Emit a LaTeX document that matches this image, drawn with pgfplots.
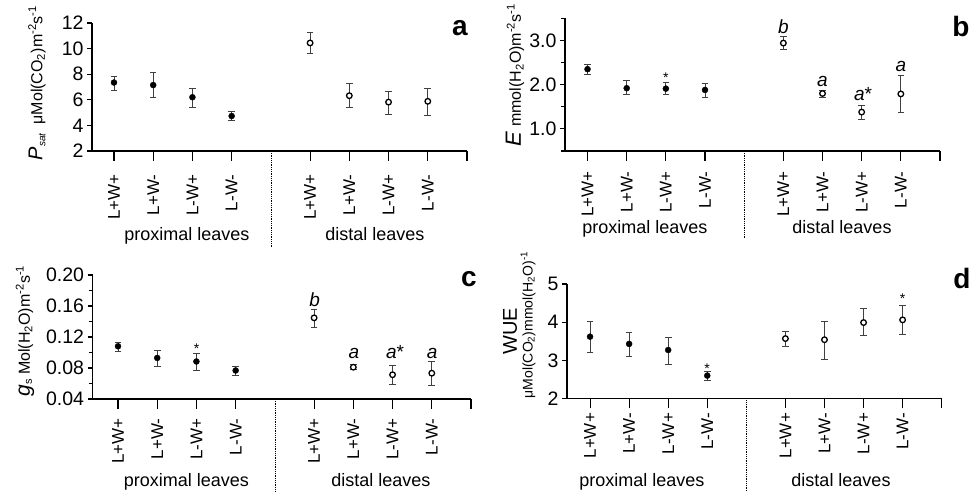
\documentclass[border=0pt]{standalone}
\usepackage{pgfplots}
\pgfplotsset{compat=1.18}
\usepackage{fontspec}
\setmainfont{Liberation Sans}
\newcommand{\fs}[1]{\fontsize{#1}{#1}\selectfont}
\pgfplotsset{
  panel/.style={
    scale only axis,
    axis lines=left,
    axis line style={-, line width=1.8pt},
    tick align=outside,
    major tick length=5pt,
    minor tick length=4pt,
    every tick/.style={black, line width=1.1pt},
    xtick=\empty,
    extra x ticks={0,1,2,3,5,6,7,8,9},
    extra x tick labels={L+W+,L+W-,L-W+,L-W-,L+W+,L+W-,L-W+,L-W-,},
    extra x tick style={major tick length=10pt,
      xticklabel style={rotate=90, anchor=east, font=\fs{17}},
      tick style={black, line width=1.1pt}},
    yticklabel style={font=\fs{19.5}},
    /pgf/number format/assume math mode=true,
    xmax=9,
    clip=false,
  },
  perr/.style={error bars/.cd, y dir=both, y explicit,
    error bar style={line width=0.9pt, draw=black!75, solid},
    error mark=-,
    error mark options={rotate=90, mark size=3.3pt, line width=0.9pt, draw=black!75, solid}},
  pfill/.style={only marks, mark=*, mark size=3pt, mark options={fill=black, draw=black}, perr},
  popen/.style={only marks, mark=*, mark size=2.8pt, mark options={fill=white, draw=black, line width=1.3pt}, perr},
}
\begin{document}
\begin{tikzpicture}
\useasboundingbox (0,0) rectangle (971pt,492pt);
% ---------------- panel a
\begin{axis}[panel, at={(92pt,341pt)}, anchor=south west, width=375pt, height=128pt,
  xmin=-0.56, ymin=2, ymax=12, ytick={2,4,...,12},
  extra x tick style={xticklabel shift=10pt}]
\addplot[pfill] table[x=x,y=y,y error plus=ep,y error minus=em] {
x y ep em
0 7.35 0.50 0.60
1 7.15 1.00 1.00
2 6.20 0.72 0.80
3 4.73 0.39 0.37
};
\addplot[popen] table[x=x,y=y,y error plus=ep,y error minus=em] {
x y ep em
5 10.44 0.81 0.83
6 6.32 0.93 0.92
7 5.82 0.84 0.96
8 5.88 1.00 1.08
};
\end{axis}
% ---------------- panel b
\begin{axis}[panel, at={(565pt,341pt)}, anchor=south west, width=375pt, height=132.7pt,
  xmin=-0.575, ymin=0.5, ymax=3.5, ytick={1,2,3}, minor ytick={0.5,1.5,2.5,3.5},
  yticklabel style={/pgf/number format/.cd, fixed, fixed zerofill, precision=1},
  extra x tick style={xticklabel shift=7pt}]
\addplot[pfill] table[x=x,y=y,y error plus=ep,y error minus=em] {
x y ep em
0 2.35 0.11 0.13
1 1.92 0.17 0.15
2 1.91 0.15 0.14
3 1.88 0.15 0.16
};
\addplot[popen] table[x=x,y=y,y error plus=ep,y error minus=em] {
x y ep em
5 2.94 0.14 0.15
6 1.80 0.08 0.09
7 1.38 0.16 0.16
8 1.79 0.41 0.41
};
\end{axis}
% ---------------- panel c
\begin{axis}[panel, at={(92.5pt,93pt)}, anchor=south west, width=378.5pt, height=124pt,
  xmin=-0.65, ymin=0.04, ymax=0.20, ytick={0.04,0.08,...,0.20}, minor ytick={0.06,0.10,0.14,0.18},
  yticklabel style={/pgf/number format/.cd, fixed, fixed zerofill, precision=2},
  extra x tick style={xticklabel shift=6pt}]
\addplot[pfill] table[x=x,y=y,y error plus=ep,y error minus=em] {
x y ep em
0 0.108 0.0046 0.0062
1 0.093 0.0097 0.0110
2 0.0884 0.0100 0.0116
3 0.0768 0.0052 0.0065
};
\addplot[popen] table[x=x,y=y,y error plus=ep,y error minus=em] {
x y ep em
5 0.1447 0.0106 0.0118
6 0.081 0.0040 0.0030
7 0.0713 0.0117 0.0119
8 0.0733 0.0148 0.0160
};
\end{axis}
% ---------------- panel d
\begin{axis}[panel, at={(567pt,93.5pt)}, anchor=south west, width=374.7pt, height=114.5pt,
  xmin=-0.59, ymin=2, ymax=5, ytick={2,3,4,5},
  extra x tick style={xticklabel shift=1pt}]
\addplot[pfill] table[x=x,y=y,y error plus=ep,y error minus=em] {
x y ep em
0 3.62 0.40 0.42
1 3.43 0.31 0.34
2 3.27 0.33 0.38
3 2.60 0.11 0.13
};
\addplot[popen] table[x=x,y=y,y error plus=ep,y error minus=em] {
x y ep em
5 3.57 0.19 0.20
6 3.54 0.48 0.52
7 3.99 0.36 0.35
8 4.06 0.38 0.39
};
\end{axis}
% ---------------- separators
\draw[densely dotted, line width=0.8pt] (271pt,341pt) -- (271pt,245pt);
\draw[densely dotted, line width=0.8pt] (744pt,341pt) -- (744pt,253pt);
\draw[densely dotted, line width=0.8pt] (275pt,93pt) -- (275pt,0pt);
\draw[densely dotted, line width=0.8pt] (746.3pt,93.5pt) -- (746.3pt,0pt);
% ---------------- group labels
\begin{scope}[every node/.style={anchor=base, font=\fs{18}}]
\node at (187pt,251pt) {proximal leaves};
\node at (375pt,251pt) {distal leaves};
\node at (645pt,258pt) {proximal leaves};
\node at (842pt,258pt) {distal leaves};
\node at (186.5pt,5pt) {proximal leaves};
\node at (381pt,5pt) {distal leaves};
\node at (642pt,5.5pt) {proximal leaves};
\node at (841pt,5.5pt) {distal leaves};
\end{scope}
% ---------------- panel letters
\begin{scope}[every node/.style={anchor=base, font=\fs{28}\bfseries}]
\node at (460pt,456pt) {a};
\node at (961pt,455pt) {b};
\node at (469pt,205pt) {c};
\node at (962pt,203pt) {d};
\end{scope}
% ---------------- y labels
\node[rotate=90] at (37pt,409pt) {\fs{20}\textit{P}\fs{10}\raisebox{-3pt}{\textit{sat}}\fs{16}\ \ μMol(CO\textsubscript{2})m\textsuperscript{-2}s\textsuperscript{-1}};
\node[rotate=90] at (515pt,417pt) {\fs{22}\textit{E}\fs{16}\ mmol(H\textsubscript{2}O)m\textsuperscript{-2}s\textsuperscript{-1}};
\node[rotate=90] at (25pt,161pt) {\fs{21}\textit{g}\fs{11}\raisebox{-2pt}{s}\fs{16}\ Mol(H\textsubscript{2}O)m\textsuperscript{-2}s\textsuperscript{-1}};
\node[rotate=90] at (510pt,161pt) {\fs{20}WUE};
\node[rotate=90] at (528pt,167pt) {\fs{14}μMol(CO\textsubscript{2})mmol(H\textsubscript{2}O)\textsuperscript{-1}};
% ---------------- annotations
\begin{scope}[every node/.style={anchor=base, inner sep=0pt}]
% b
\node[font=\fs{14}] at (665.8pt,409pt) {*};
\node[font=\fs{19}\itshape] at (783.3pt,458.7pt) {b};
\node[font=\fs{19}\itshape] at (822.5pt,405pt) {a};
\node[font=\fs{19}] at (863pt,391pt) {\textit{a}*};
\node[font=\fs{19}\itshape] at (900.8pt,420pt) {a};
% c
\node[font=\fs{14}] at (196.5pt,138.5pt) {*};
\node[font=\fs{19}\itshape] at (314.6pt,185pt) {b};
\node[font=\fs{19}\itshape] at (353.8pt,133pt) {a};
\node[font=\fs{19}] at (395pt,133pt) {\textit{a}*};
\node[font=\fs{19}\itshape] at (432.2pt,133pt) {a};
% d
\node[font=\fs{14}] at (707.2pt,118.5pt) {*};
\node[font=\fs{14}] at (902.6pt,188.5pt) {*};
\end{scope}
\end{tikzpicture}
\end{document}
